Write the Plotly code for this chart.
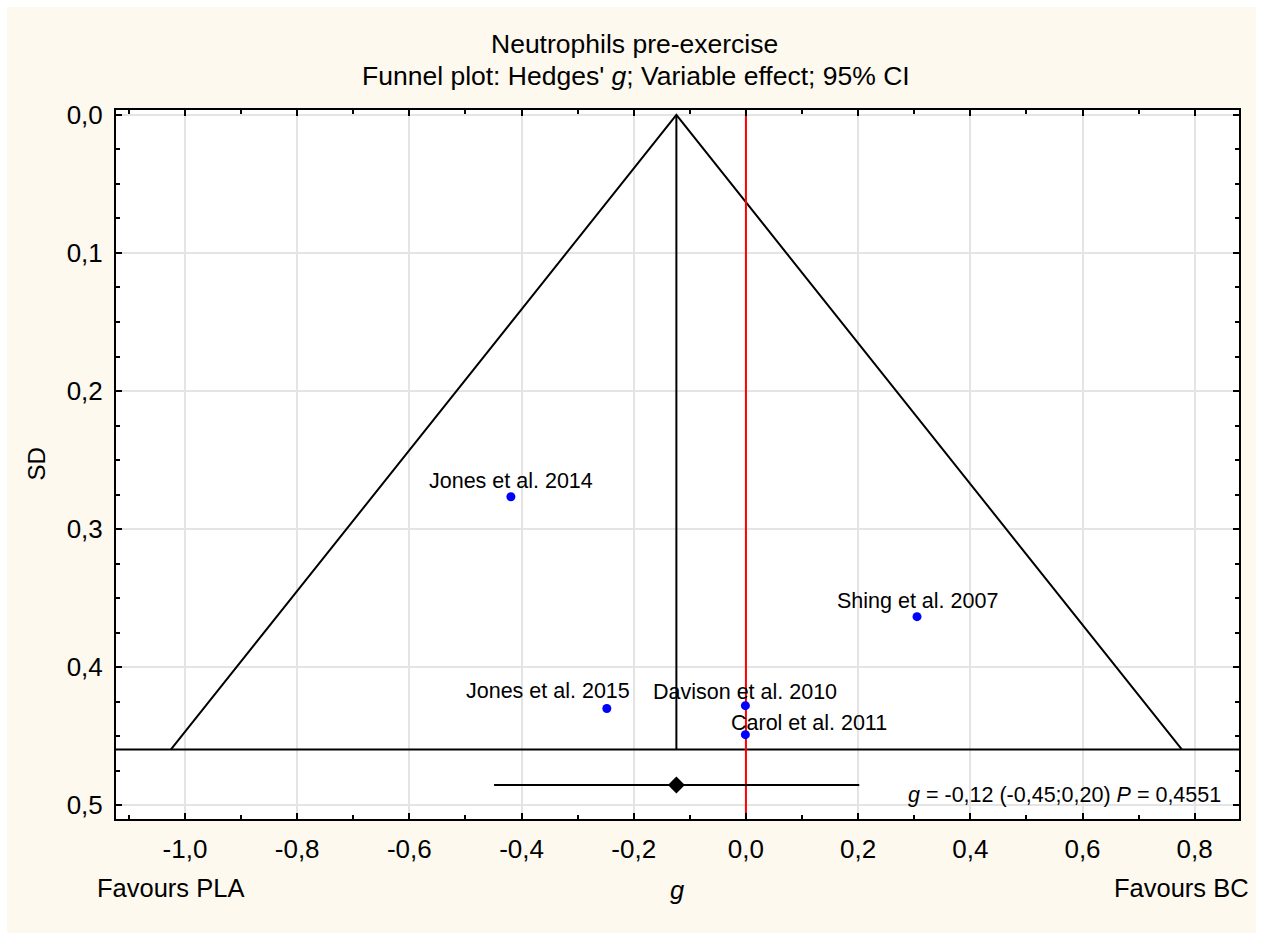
import plotly.graph_objects as go

# ---------------- data ----------------
studies = ["Jones et al. 2014", "Shing et al. 2007", "Jones et al. 2015",
           "Davison et al. 2010", "Carol et al. 2011"]
g_values = [-0.419, 0.305, -0.248, -0.001, -0.001]
sd_values = [0.2766, 0.3635, 0.430, 0.428, 0.449]

g_pooled = -0.124
ci_low = -0.449
ci_high = 0.202
p_value = 0.4551
sd_base = 0.4597          # funnel base
summary_sd = 0.4855       # row where summary estimate is drawn
z95 = 1.96

x_tick_vals = [-1.0, -0.8, -0.6, -0.4, -0.2, 0.0, 0.2, 0.4, 0.6, 0.8]
x_tick_text = ["-1,0", "-0,8", "-0,6", "-0,4", "-0,2", "0,0", "0,2", "0,4", "0,6", "0,8"]
y_tick_vals = [0.0, 0.1, 0.2, 0.3, 0.4, 0.5]
y_tick_text = ["0,0", "0,1", "0,2", "0,3", "0,4", "0,5"]

x_range = [-1.123, 0.879]
y_range = [0.5101, -0.0036]

# label offsets (pixels) – style only
label_dx = [0, 0, -59, 0, 64]
label_dy = [16, 16, 17, 14, 12]

FONT = "Liberation Sans, Arial, sans-serif"
CREAM = "#FDF9EF"

fig = go.Figure()

# funnel (95% limits)
fig.add_trace(go.Scatter(
    x=[g_pooled - z95 * sd_base, g_pooled, g_pooled + z95 * sd_base],
    y=[sd_base, 0.0, sd_base],
    mode="lines", line=dict(color="black", width=2), hoverinfo="skip", showlegend=False))
# vertical pooled line
fig.add_trace(go.Scatter(x=[g_pooled, g_pooled], y=[0.0, sd_base], mode="lines",
                         line=dict(color="black", width=2), showlegend=False))
# horizontal base line
fig.add_trace(go.Scatter(x=x_range, y=[sd_base, sd_base], mode="lines",
                         line=dict(color="black", width=2), showlegend=False))
# red null line
fig.add_trace(go.Scatter(x=[0, 0], y=[y_range[0], y_range[1]], mode="lines",
                         line=dict(color="#FF0000", width=2), showlegend=False))
# summary CI
fig.add_trace(go.Scatter(x=[ci_low, ci_high], y=[summary_sd, summary_sd], mode="lines",
                         line=dict(color="black", width=2), showlegend=False))
fig.add_trace(go.Scatter(x=[g_pooled], y=[summary_sd], mode="markers",
                         marker=dict(symbol="diamond", size=13, color="black"), showlegend=False))
# studies
fig.add_trace(go.Scatter(x=g_values, y=sd_values, mode="markers",
                         marker=dict(color="#0000FF", size=9), showlegend=False))

for name, gx, sy, dx, dy in zip(studies, g_values, sd_values, label_dx, label_dy):
    fig.add_annotation(x=gx, y=sy, xref="x", yref="y", text=name, showarrow=False,
                       xshift=dx, yshift=dy, font=dict(family=FONT, size=21.5, color="black"))

def fmt(v, d):
    return f"{v:.{d}f}".replace(".", ",")

summary_text = (f"<i>g</i> = {fmt(g_pooled, 2)} ({fmt(ci_low, 2)};{fmt(ci_high, 2)}) "
                f"<i>P</i> = {fmt(p_value, 4)}")

W, H = 1268, 942
L, R, T, B = 116, 29, 110, 123
PW, PH = W - L - R, H - T - B

def px(xpix):
    return (xpix - L) / PW

def py(ypix):
    return (H - B - ypix) / PH

ann = [
    dict(text="Neutrophils pre-exercise", x=px(634), y=py(44), size=26.5),
    dict(text="Funnel plot: Hedges' <i>g</i>; Variable effect; 95% CI", x=px(636), y=py(76), size=26.5),
]
for a in ann:
    fig.add_annotation(x=a["x"], y=a["y"], xref="paper", yref="paper", text=a["text"],
                       showarrow=False, xanchor="center", yanchor="middle",
                       font=dict(family=FONT, size=a["size"], color="black"))

fig.add_annotation(x=px(1223), y=py(795), xref="paper", yref="paper", text=summary_text,
                   showarrow=False, xanchor="right", yanchor="middle",
                   font=dict(family=FONT, size=21.5, color="black"))
fig.add_annotation(x=px(95), y=py(888), xref="paper", yref="paper", text="Favours PLA",
                   showarrow=False, xanchor="left", yanchor="middle",
                   font=dict(family=FONT, size=25.5, color="black"))
fig.add_annotation(x=px(1251), y=py(888), xref="paper", yref="paper", text="Favours BC",
                   showarrow=False, xanchor="right", yanchor="middle",
                   font=dict(family=FONT, size=25.5, color="black"))
fig.add_annotation(x=px(677), y=py(890), xref="paper", yref="paper", text="<i>g</i>",
                   showarrow=False, xanchor="center", yanchor="middle",
                   font=dict(family=FONT, size=25.5, color="black"))
fig.add_annotation(x=px(36), y=0.5, xref="paper", yref="paper", text="SD", textangle=-90,
                   showarrow=False, xanchor="center", yanchor="middle",
                   font=dict(family=FONT, size=24, color="black"))

# white outer border (cream paper inside)
for (x0, y0, x1, y1) in [(0, 0, 7, H), (1256, 0, W, H), (0, 0, W, 7), (0, 933, W, H)]:
    fig.add_shape(type="rect", xref="paper", yref="paper",
                  x0=px(x0), x1=px(x1), y0=py(y1), y1=py(y0),
                  fillcolor="white", line=dict(width=0), layer="above")

axis_common = dict(showline=True, linewidth=2, linecolor="black", mirror="ticks",
                   ticks="inside", ticklen=6, tickwidth=2, tickcolor="black",
                   showgrid=True, gridcolor="#E4E4E4", gridwidth=2, zeroline=False,
                   tickfont=dict(family=FONT, size=26, color="black"))

fig.update_xaxes(range=x_range, tickmode="array", tickvals=x_tick_vals, ticktext=x_tick_text,
                 minor=dict(dtick=0.1, tick0=0, ticks="inside", ticklen=4, tickwidth=2,
                            tickcolor="black", showgrid=False),
                 ticklabelstandoff=6, **axis_common)
fig.update_yaxes(range=y_range, tickmode="array", tickvals=y_tick_vals, ticktext=y_tick_text,
                 minor=dict(dtick=0.025, tick0=0, ticks="inside", ticklen=4, tickwidth=2,
                            tickcolor="black", showgrid=False),
                 ticklabelstandoff=6, **axis_common)

fig.update_layout(width=W, height=H, margin=dict(l=L, r=R, t=T, b=B, autoexpand=False),
                  paper_bgcolor=CREAM, plot_bgcolor="white", showlegend=False,
                  font=dict(family=FONT, color="black"))

fig.write_html("out.html")
